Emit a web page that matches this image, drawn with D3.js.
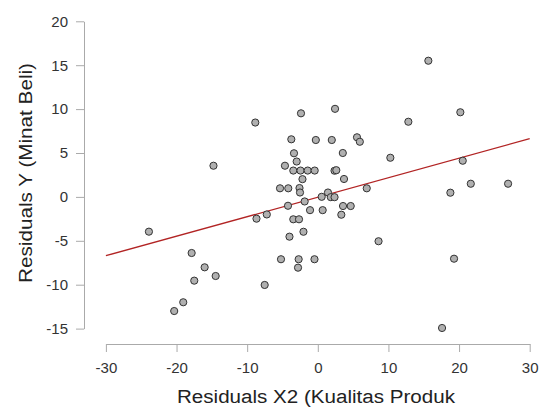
<!DOCTYPE html>
<html>
<head>
<meta charset="utf-8">
<script src="https://cdn.jsdelivr.net/npm/d3@7"></script>
<style>
  html, body { margin: 0; padding: 0; background: #fff; }
  svg { display: block; font-family: "Liberation Sans", Arial, sans-serif; }
</style>
</head>
<body>
<svg id="chart" width="542" height="408"></svg>
<script>
// Residual X2 (Kualitas Produk) values
const residX = [15.65, 2.44, -2.38, 20.18, -8.85, 12.82, -3.75, -0.28, 1.98, 5.55,
  5.95, -3.37, 3.54, 10.27, 20.52, -2.99, -14.77, -4.65, -3.47, -2.45,
  -1.43, -0.44, 2.37, 2.62, -2.17, 3.71, 21.66, 26.94, -5.35, -4.18,
  -2.59, -2.52, 6.93, 1.44, 18.77, 0.55, 1.84, 2.37, -1.86, -4.22,
  3.57, 4.66, -1.10, 0.69, 3.33, -7.22, -8.68, -3.47, -2.66, -2.03,
  -4.01, -23.91, 8.60, -17.86, -5.21, -2.71, -0.47, 19.29, -2.80, -16.02,
  -14.46, -17.49, -7.52, -19.05, -20.33, 17.59];
// Residual Y (Minat Beli) values
const residY = [15.51, 10.03, 9.52, 9.64, 8.47, 8.56, 6.56, 6.48, 6.48, 6.79,
  6.28, 4.97, 5.00, 4.46, 4.12, 4.03, 3.55, 3.55, 3.00, 3.00,
  3.00, 3.00, 2.98, 3.04, 2.02, 2.04, 1.50, 1.50, 0.98, 0.98,
  1.01, 0.50, 0.98, 0.50, 0.48, 0.01, -0.03, -0.03, -0.52, -1.01,
  -1.04, -1.04, -1.51, -1.51, -2.03, -2.00, -2.48, -2.55, -2.55, -3.97,
  -4.53, -3.96, -5.05, -6.39, -7.10, -7.10, -7.10, -7.04, -8.06, -8.02,
  -9.01, -9.54, -10.03, -12.00, -13.00, -14.93];
// Fitted regression line end points
const fitX = [-30, 30];
const fitY = [-6.70, 6.63];
// Tick labels
const xTicks = [-30, -20, -10, 0, 10, 20, 30];
const yTicks = [-15, -10, -5, 0, 5, 10, 15, 20];
const xTitle = "Residuals X2 (Kualitas Produk";
const yTitle = "Residuals Y (Minat Beli)";

const svg = d3.select("#chart");
const x = d3.scaleLinear().domain([-30, 30]).range([105.9, 529.7]);
const y = d3.scaleLinear().domain([-15, 20]).range([328.6, 21.3]);

const axisColor = "#aaaaaa";
const textColor = "#333333";
const fmt = d => String(d);

// X axis
const gx = svg.append("g").attr("transform", "translate(0,344)")
  .call(d3.axisBottom(x).tickValues(xTicks).tickSizeOuter(0).tickSizeInner(8).tickPadding(10).tickFormat(fmt));
// Y axis
const gy = svg.append("g").attr("transform", "translate(84,0)")
  .call(d3.axisLeft(y).tickValues(yTicks).tickSizeOuter(0).tickSizeInner(8).tickPadding(8).tickFormat(fmt));

[gx, gy].forEach(g => {
  g.select(".domain").attr("stroke", axisColor).attr("stroke-width", 1);
  g.selectAll(".tick line").attr("stroke", axisColor).attr("stroke-width", 1);
  g.selectAll(".tick text").attr("fill", textColor).attr("font-size", 15)
    .attr("font-family", "'Liberation Sans', Arial, sans-serif");
});
gx.selectAll(".tick text").attr("dy", "0.71em").attr("y", 18);

// Regression line
svg.append("line")
  .attr("x1", x(fitX[0])).attr("y1", y(fitY[0]))
  .attr("x2", x(fitX[1])).attr("y2", y(fitY[1]))
  .attr("stroke", "#b22424").attr("stroke-width", 1.3);

// Points
const pts = residX.map((v, i) => ({ x: v, y: residY[i] }));
svg.append("g").selectAll("circle").data(pts).join("circle")
  .attr("cx", d => x(d.x)).attr("cy", d => y(d.y)).attr("r", 3.6)
  .attr("fill", "#b0b0b0").attr("stroke", "#333333").attr("stroke-width", 1);

// Axis titles
svg.append("text")
  .attr("x", 316).attr("y", 403.3).attr("text-anchor", "middle")
  .attr("font-size", 18).attr("fill", "#222")
  .attr("textLength", 278).attr("lengthAdjust", "spacingAndGlyphs")
  .text(xTitle);
svg.append("text")
  .attr("transform", "translate(31.5,173) rotate(-90)")
  .attr("text-anchor", "middle")
  .attr("font-size", 18).attr("fill", "#222")
  .attr("textLength", 220).attr("lengthAdjust", "spacingAndGlyphs")
  .text(yTitle);
</script>
</body>
</html>
